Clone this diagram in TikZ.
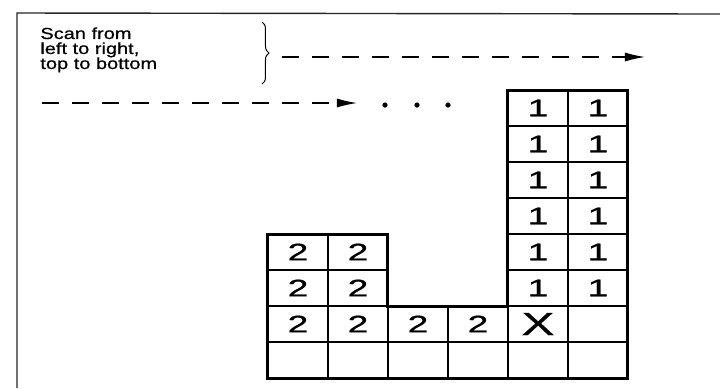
\documentclass[tikz,border=0pt]{standalone}
\usepackage{fontspec}
\setmainfont{Liberation Sans}
\newfontfamily\capfont[FakeStretch=1.25, FakeBold=0.6]{Liberation Sans}
\newfontfamily\cellfont[FakeStretch=1.55, FakeBold=0.8]{Liberation Sans}
\usetikzlibrary{arrows.meta,decorations.pathreplacing}

\begin{document}
\begin{tikzpicture}[
  x=0.5pt, y=-0.5pt,
  cell/.style={draw, line width=0.75pt, minimum width=30pt, minimum height=18pt,
               inner sep=0pt, outer sep=0pt, font=\cellfont\fontsize{12}{12}\selectfont},
  bigcell/.style={cell, font=\cellfont\fontsize{16}{16}\selectfont},
  outline/.style={line width=1.5pt, line join=miter},
  scan/.style={dash pattern=on 8.5pt off 6.5pt, line width=0.6pt},
  tip/.style={-{Latex[length=10pt,width=4.5pt]}},
  lab/.style={font=\capfont\fontsize{8}{7.5}\selectfont, align=left, inner sep=0pt},
  dot/.style={circle, fill, inner sep=0pt, minimum size=2.6pt},
  ]
\useasboundingbox (0,0) rectangle (720,388);

% ---- Page frame ------------------------------------------------------------
\draw[line width=0.7pt, black!85] (17,388) -- (17,13) -- (720,14);

% ---- Caption with brace ----------------------------------------------------
\node[lab, anchor=north west] (caption) at (40,27)
  {Scan from\\left to right,\\top to bottom};
\coordinate (brace top) at (262,22);
\coordinate (brace bot) at (262,84);
\draw[decorate, decoration={brace, amplitude=3.5pt}, line width=0.5pt]
  (brace top) -- (brace bot);

% ---- Scan lines ------------------------------------------------------------
\coordinate (rowA start) at (282,57);
\coordinate (rowA end) at (645,57);
\draw[scan, tip] (rowA start) -- (rowA end);

\coordinate (rowB start) at (42,103);
\coordinate (rowB end) at (357,103);
\draw[scan, tip] (rowB start) -- (rowB end);

\foreach \d/\x in {1/385, 2/417, 3/448}
  \node[dot] (dot\d) at (\x,105) {};

% ---- Label grid (row r, column c) ------------------------------------------
% region 1
\foreach \r in {1,...,6}
  \foreach \c in {4,5}
    \node[cell] (cell-\r-\c) at ({298+60*\c},{108+36*(\r-1)}) {1};
% region 2
\foreach \r/\c in {5/0, 5/1, 6/0, 6/1, 7/0, 7/1, 7/2, 7/3}
  \node[cell] (cell-\r-\c) at ({298+60*\c},{108+36*(\r-1)}) {2};
% current pixel
\node[bigcell] (cell-7-4) at (538,324) {X};
% not yet scanned
\foreach \r/\c in {7/5, 8/0, 8/1, 8/2, 8/3, 8/4, 8/5}
  \node[cell] (cell-\r-\c) at ({298+60*\c},{108+36*(\r-1)}) {};

% ---- Object outline --------------------------------------------------------
\draw[outline] (cell-5-0.north west) -- (cell-5-1.north east)
  -- (cell-7-2.north west) -- (cell-7-3.north east)
  -- (cell-1-4.north west) -- (cell-1-5.north east)
  -- (cell-8-5.south east) -- (cell-8-0.south west) -- cycle;

\end{tikzpicture}
\end{document}
